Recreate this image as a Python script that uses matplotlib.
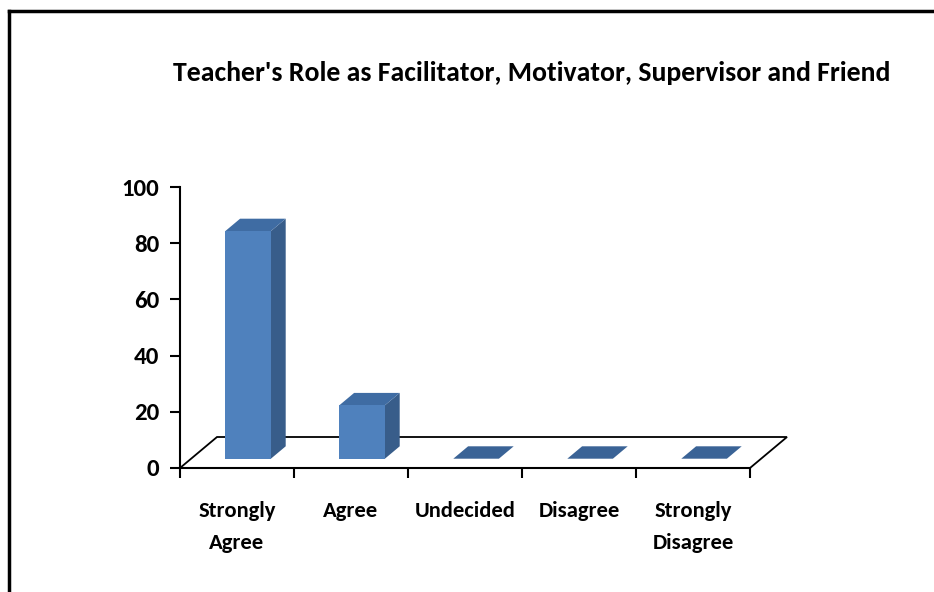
import matplotlib
matplotlib.use("Agg")
import matplotlib.pyplot as plt
from matplotlib.patches import Polygon
from matplotlib.lines import Line2D

categories = ["Strongly\nAgree", "Agree", "Undecided", "Disagree", "Strongly\nDisagree"]
values = [81, 19, 0, 0, 0]
y_ticks = [0, 20, 40, 60, 80, 100]
title = "Teacher's Role as Facilitator, Motivator, Supervisor and Friend"

FRONT = "#4f81bd"
SIDE = "#385d8a"
TOP = "#3f6ca3"
FLAT = "#3a6396"

plt.rcParams["font.family"] = ["Carlito", "Open Sans", "DejaVu Sans"]
plt.rcParams["font.weight"] = "bold"

W, H = 934, 592
fig = plt.figure(figsize=(W / 100, H / 100), dpi=100)
renderer = fig.canvas.get_renderer()


def fit_size(txt, target_px, size=20):
    # scale font size so that txt is target_px wide
    t = fig.text(0, 0, txt, fontsize=size, fontweight="bold")
    w = t.get_window_extent(renderer).width
    t.remove()
    return size * target_px / w


title_fs = fit_size(title, 718)
label_fs = fit_size("Undecided", 101)
ytick_fs = fit_size("100", 38)

# axes: x 0..5 spans px 180..750, y 0..100 spans px 468..187
x0, x1 = 180, 750
y0, y1 = 468, 187
ax = fig.add_axes([x0 / W, 1 - y0 / H, (x1 - x0) / W, (y0 - y1) / H])
ax.set_xlim(0, len(categories))
ax.set_ylim(0, 100)

# depth of the floor in data units
px_x = (x1 - x0) / len(categories)
px_y = (y0 - y1) / 100
ddx = 37 / px_x
ddy = 31 / px_y

# floor
floor = Polygon([(0, 0), (len(categories), 0), (len(categories) + ddx, ddy), (ddx, ddy)],
                closed=True, facecolor="white", edgecolor="black", lw=1.3,
                clip_on=False, zorder=1)
ax.add_patch(floor)

# bars sit in the middle of the depth
d0, d1 = 0.3, 0.7
bw = 0.4
for i, v in enumerate(values):
    left = i + 0.5 - bw / 2 + d0 * ddx
    right = left + bw
    base = d0 * ddy
    ox, oy = (d1 - d0) * ddx, (d1 - d0) * ddy
    if v <= 0:
        ax.add_patch(Polygon([(left, base), (right, base), (right + ox, base + oy),
                              (left + ox, base + oy)], closed=True,
                             facecolor=FLAT, edgecolor="none", clip_on=False, zorder=3))
        continue
    ax.bar(left, v, width=bw, bottom=base, align="edge", color=FRONT,
           zorder=4, clip_on=False)
    ax.add_patch(Polygon([(right, base), (right + ox, base + oy), (right + ox, base + v + oy),
                          (right, base + v)], closed=True, facecolor=SIDE,
                         edgecolor="none", clip_on=False, zorder=3))
    ax.add_patch(Polygon([(left, base + v), (right, base + v), (right + ox, base + v + oy),
                          (left + ox, base + v + oy)], closed=True, facecolor=TOP,
                         edgecolor="none", clip_on=False, zorder=3))

for s in ["top", "right"]:
    ax.spines[s].set_visible(False)
ax.spines["left"].set_linewidth(1.5)
ax.spines["bottom"].set_linewidth(1.5)
ax.spines["left"].set_zorder(5)

ax.set_yticks(y_ticks)
ax.set_yticklabels([str(t) for t in y_ticks], fontsize=ytick_fs, fontweight="bold")
ax.tick_params(axis="y", length=7, width=1.5, pad=8)

ax.set_xticks(range(len(categories) + 1))
ax.set_xticklabels([])
ax.set_xticks([i + 0.5 for i in range(len(categories))], minor=True)
ax.set_xticklabels(categories, minor=True, fontsize=label_fs, fontweight="bold",
                   linespacing=1.7)
ax.tick_params(axis="x", which="major", length=7, width=1.5)
ax.tick_params(axis="x", which="minor", length=0, pad=24)

fig.text(532 / W, 1 - 81 / H, title, ha="center", va="baseline", fontsize=title_fs,
         fontweight="bold")

# chart border (left and top only visible)
fig.add_artist(Line2D([8.5 / W, 8.5 / W], [0, 1 - 11 / H], color="black", lw=2.5))
fig.add_artist(Line2D([8.5 / W, 1], [1 - 11 / H, 1 - 11 / H], color="black", lw=2.5))

fig.savefig("out.png", dpi=100, facecolor="white")
